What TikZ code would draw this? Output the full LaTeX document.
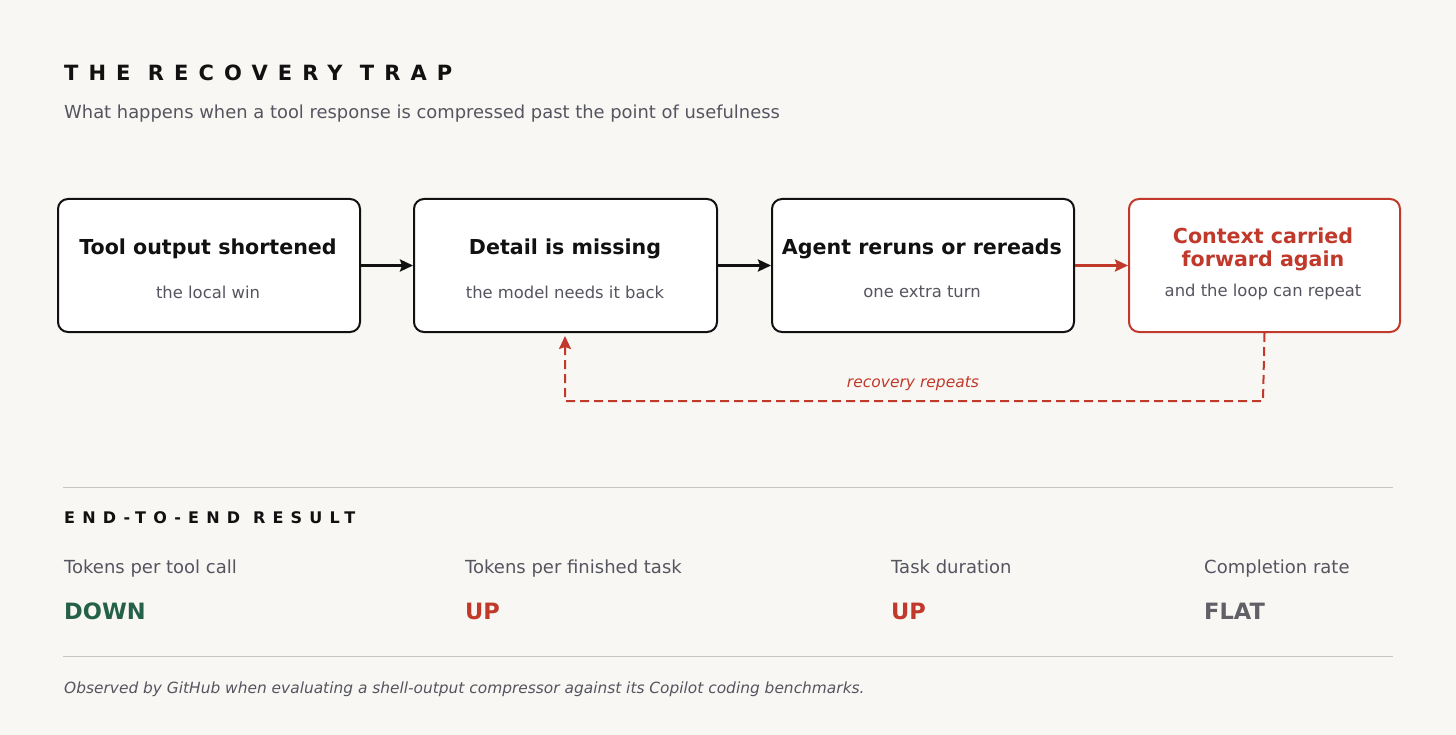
\documentclass[tikz,border=0pt]{standalone}
\usepackage{fontspec}
\setmainfont{DejaVu Sans}
\newfontfamily\spaced[LetterSpace=48]{DejaVu Sans}
\newfontfamily\spacedb[LetterSpace=45]{DejaVu Sans}
\usetikzlibrary{arrows.meta}
\definecolor{bg}{HTML}{F9F7F3}
\definecolor{ink}{HTML}{111111}
\definecolor{sub}{HTML}{555560}
\definecolor{rd}{HTML}{C0392B}
\definecolor{gr}{HTML}{24604A}
\definecolor{gy}{HTML}{606066}
\definecolor{rule}{HTML}{C8C6C0}
\tikzset{
 box/.style={draw=ink,line width=2pt,rounded corners=10pt,fill=white,minimum height=133pt,anchor=north west},
 main/.style={font=\bfseries\fontsize{20.6}{23}\selectfont,text=ink,align=center},
 small/.style={font=\fontsize{16.4}{19}\selectfont,text=sub},
 arr/.style={-{Stealth[length=13pt,width=12pt,inset=2pt]},line width=2.6pt,draw=ink},
 lab/.style={font=\fontsize{18}{21}\selectfont,text=sub,anchor=base west},
 val/.style={font=\bfseries\fontsize{22.5}{26}\selectfont,anchor=base west},
}
\begin{document}
\begin{tikzpicture}[x=1pt,y=-1pt]
\useasboundingbox[fill=bg] (0,0) rectangle (1456,735);
\node[anchor=base west,inner sep=0,font=\spaced\bfseries\fontsize{21}{24}\selectfont,text=ink] (t) at (64,81) {THE RECOVERY TRAP};
\node[anchor=base west,inner sep=0,font=\fontsize{17.9}{21}\selectfont,text=sub] (s) at (64,119) {What happens when a tool response is compressed past the point of usefulness};

\node[box,minimum width=302pt] (b1) at (57,198) {};
\node[box,minimum width=303pt] (b2) at (413,198) {};
\node[box,minimum width=302pt] (b3) at (771,198) {};
\node[box,draw=rd,minimum width=271pt] (b4) at (1128,198) {};

\node[main] (m1) at (208,249) {Tool output shortened};
\node[small] (n1) at (208,292) {the local win};
\node[main] (m2) at (565,249) {Detail is missing};
\node[small] (n2) at (565,292) {the model needs it back};
\node[main] (m3) at (922,249) {Agent reruns or rereads};
\node[small] (n3) at (922,292) {one extra turn};
\node[main,text=rd,font=\bfseries\fontsize{20.6}{23}\selectfont] (m4) at (1263,249) {Context carried\\forward again};
\node[small] (n4) at (1263,292) {and the loop can repeat};

\draw[arr] (b1.east) -- (b2.west);
\draw[arr] (b2.east) -- (b3.west);
\draw[arr,draw=rd] (b3.east) -- (b4.west);
\coordinate (c1) at (1263,401);
\coordinate (c2) at (565,401);
\coordinate (c3) at (565,336);
\draw[arr,draw=rd,line width=2pt,dash pattern=on 9pt off 5pt] (b4.south) -- (c1) -- (c2) -- (c3);
\node[font=\itshape\fontsize{15.5}{18}\selectfont,text=rd] (rr) at (913,384) {recovery repeats};

\draw[rule,line width=1pt] (63,487) -- (1393,487);
\draw[rule,line width=1pt] (63,656) -- (1393,656);
\node[anchor=base west,inner sep=0,font=\spacedb\bfseries\fontsize{16}{19}\selectfont,text=ink] (e) at (64,523) {END-TO-END RESULT};

\node[lab,inner sep=0] (l1) at (64,573) {Tokens per tool call};
\node[lab,inner sep=0] (l2) at (465,573) {Tokens per finished task};
\node[lab,inner sep=0] (l3) at (891,573) {Task duration};
\node[lab,inner sep=0] (l4) at (1204,573) {Completion rate};
\node[val,inner sep=0,text=gr] (v1) at (64,619) {DOWN};
\node[val,inner sep=0,text=rd] (v2) at (465,619) {UP};
\node[val,inner sep=0,text=rd] (v3) at (891,619) {UP};
\node[val,inner sep=0,text=gy] (v4) at (1204,619) {FLAT};

\node[anchor=base west,inner sep=0,font=\itshape\fontsize{15.4}{18}\selectfont,text=sub] (f) at (64,693) {Observed by GitHub when evaluating a shell-output compressor against its Copilot coding benchmarks.};
\end{tikzpicture}
\end{document}
